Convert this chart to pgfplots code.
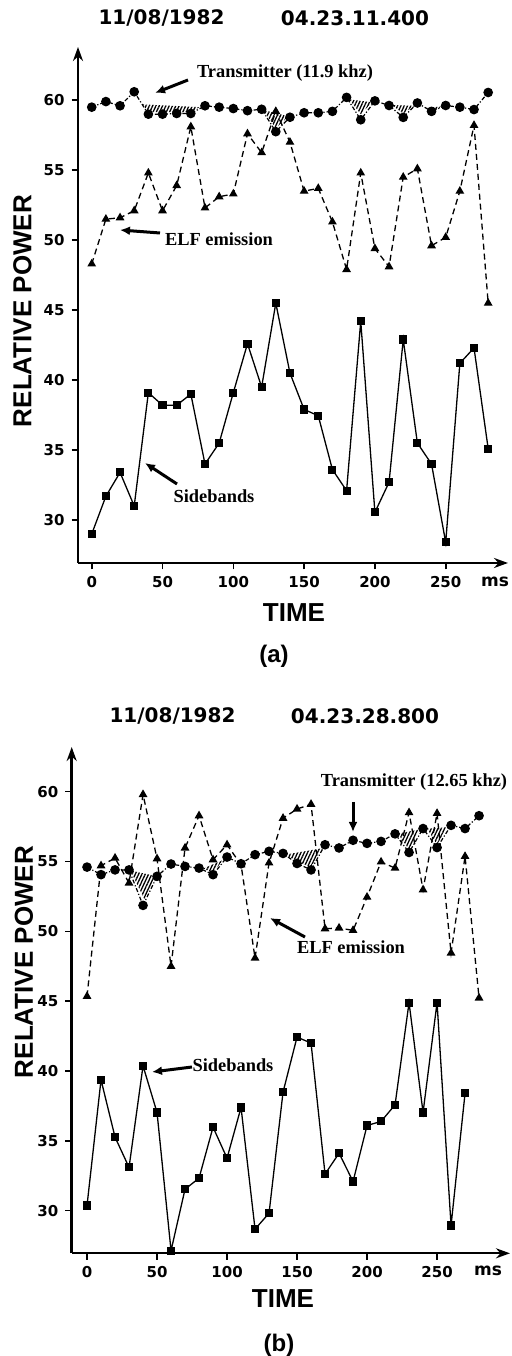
\documentclass[border=0pt]{standalone}
\usepackage{fontspec}
\setmainfont{Liberation Sans}
\newfontfamily\tickfont{DejaVu Sans}
\newfontfamily\annofont{Liberation Serif}
\usepackage{pgfplots}
\pgfplotsset{compat=1.18}
\usetikzlibrary{arrows.meta,patterns.meta}

\pgfplotsset{
  panel/.style={
    scale only axis, anchor=south west, clip=false,
    axis lines=left,
    axis line style={line width=1.2pt, -{Stealth[length=7pt,width=5pt]}},
    tick align=outside, major tick length=3.2pt,
    tick style={line width=0.8pt, black},
    xtick={0,50,...,250}, ytick={30,35,...,60},
    tick label style={font=\tickfont\bfseries\fontsize{7.5}{8}\selectfont},
    /pgf/number format/assume math mode=true,
  },
  trans/.style={black, line width=0.6pt, dash pattern=on 2pt off 1pt on 0.6pt off 1pt,
    mark=*, mark size=2.1pt, mark options={solid}},
  elf/.style={black, line width=0.65pt, dash pattern=on 3pt off 2pt,
    mark=triangle*, mark size=1.9pt, mark options={solid}},
  side/.style={black, line width=0.65pt, mark=square*, mark size=1.7pt},
  hatch/.style={draw=none, pattern={Lines[angle=65,distance=1.5pt,line width=0.65pt]}},
}
\tikzset{
  big/.style={font=\bfseries\fontsize{13}{14}\selectfont},
  anno/.style={font=\annofont\bfseries\fontsize{9.2}{10}\selectfont},
  ttl/.style={font=\tickfont\bfseries\fontsize{10}{11}\selectfont},
  pointer/.style={line width=1.5pt, -{Latex[length=5pt,width=4.5pt]}},
}

\begin{document}
\begin{tikzpicture}
\useasboundingbox (0pt,0pt) rectangle (256pt,678pt);

% ---------- panel (a)
\begin{axis}[panel, at={(39pt,396.5pt)}, width=215pt, height=258pt,
  xmin=-9.7, xmax=294, ymin=26.93, ymax=63.8]
\addplot[hatch] coordinates {(36,59.7)(76,59.5)(70,59.15)(40,59.15)} --cycle;
\addplot[hatch] coordinates {(121,59.3)(139,58.85)(130,58.0)} --cycle;
\addplot[hatch] coordinates {(182,60.05)(198,59.85)(190,59.0)} --cycle;
\addplot[hatch] coordinates {(212,59.65)(228,59.6)(220,59.05)} --cycle;
\addplot[hatch] coordinates {(236,59.45)(247,59.55)(241,59.1)} --cycle;
% transmitter
\addplot[trans] coordinates {
  (0,59.5)(10,59.9)(20,59.6)(30,60.6)(40,59.0)(50,59.0)(60,59.05)(70,59.05)
  (80,59.6)(90,59.5)(100,59.4)(110,59.25)(120,59.35)(130,57.75)(140,58.78)
  (150,59.1)(160,59.1)(170,59.2)(180,60.2)(190,58.6)(200,59.95)(210,59.62)
  (220,58.77)(230,59.8)(240,59.2)(250,59.62)(260,59.5)(270,59.33)(280,60.55)};
% ELF emission
\addplot[elf] coordinates {
  (0,48.3)(10,51.5)(20,51.6)(30,52.1)(40,54.8)(50,52.1)(60,53.9)(70,58.1)
  (80,52.3)(90,53.1)(100,53.3)(110,57.6)(120,56.25)(130,59.2)(140,57.0)
  (150,53.5)(160,53.7)(170,51.3)(180,47.9)(190,54.8)(200,49.4)(210,48.1)
  (220,54.5)(230,55.1)(240,49.6)(250,50.2)(260,53.5)(270,58.2)(280,45.5)};
% sidebands
\addplot[side] coordinates {
  (0,29.0)(10,31.7)(20,33.4)(30,31.0)(40,39.1)(50,38.2)(60,38.2)(70,39.0)
  (80,34.0)(90,35.5)(100,39.1)(110,42.6)(120,39.5)(130,45.5)(140,40.5)
  (150,37.9)(160,37.45)(170,33.6)(180,32.1)(190,44.2)(200,30.55)(210,32.7)
  (220,42.9)(230,35.5)(240,34.0)(250,28.4)(260,41.2)(270,42.3)(280,35.1)};
\end{axis}

% ---------- panel (b)
\begin{axis}[panel, at={(35.85pt,51.35pt)}, width=219.15pt, height=253.15pt,
  xmin=-10.95, xmax=302.1, ymin=26.95, ymax=63.2]
\addplot[hatch] coordinates {(31,54.35)(50,53.95)(41,52.3)} --cycle;
\addplot[hatch] coordinates {(83,54.5)(97,55.1)(90,54.2)} --cycle;
\addplot[hatch] coordinates {(142,55.5)(168,55.95)(160,54.6)(150,55.0)} --cycle;
\addplot[hatch] coordinates {(222,57.0)(238,57.3)(230,55.85)} --cycle;
\addplot[hatch] coordinates {(243,57.35)(257,57.45)(250,56.2)} --cycle;
% transmitter
\addplot[trans] coordinates {
  (0,54.6)(10,54.06)(20,54.4)(30,54.4)(40,51.86)(50,53.94)(60,54.82)(70,54.65)
  (80,54.53)(90,54.06)(100,55.32)(110,54.84)(120,55.49)(130,55.73)(140,55.58)
  (150,54.86)(160,54.4)(170,56.2)(180,55.97)(190,56.52)(200,56.3)(210,56.44)
  (220,56.98)(230,55.65)(240,57.36)(250,56.0)(260,57.59)(270,57.36)(280,58.28)};
% ELF emission
\addplot[elf] coordinates {
  (0,45.35)(10,54.7)(20,55.25)(30,53.46)(40,59.8)(50,55.2)(60,47.5)(70,55.97)
  (80,58.28)(90,55.13)(100,56.2)(110,54.77)(120,48.09)(130,54.9)(140,58.1)
  (150,58.76)(160,59.1)(170,50.19)(180,50.24)(190,50.07)(200,52.45)(210,54.97)
  (220,54.53)(230,58.5)(240,52.98)(250,58.45)(260,48.45)(270,55.37)(280,45.23)};
% sidebands
\addplot[side] coordinates {
  (0,30.37)(10,39.37)(20,35.27)(30,33.1)(40,40.37)(50,37.03)(60,27.14)(70,31.54)
  (80,32.33)(90,35.98)(100,33.76)(110,37.39)(120,28.68)(130,29.82)(140,38.49)
  (150,42.43)(160,42.0)(170,32.62)(180,34.12)(190,32.09)(200,36.1)(210,36.39)
  (220,37.58)(230,44.9)(240,37.03)(250,44.9)(260,28.94)(270,38.41)};
\end{axis}

% ---------- titles, labels, annotations
\node[ttl] at (80.75pt,668.75pt) {11/08/1982};
\node[ttl] at (177.5pt,668.75pt) {04.23.11.400};
\node[ttl] at (86.25pt,319.75pt) {11/08/1982};
\node[ttl] at (182.5pt,319.75pt) {04.23.28.800};

\node[big, rotate=90] at (11.25pt,522.5pt) {RELATIVE POWER};
\node[big, rotate=90] at (12pt,197pt) {RELATIVE POWER};
\node[big] at (147pt,371.5pt) {TIME};
\node[big] at (141.5pt,28.5pt) {TIME};
\node[big, font=\bfseries\fontsize{12}{13}\selectfont] at (137pt,350pt) {(a)};
\node[big, font=\bfseries\fontsize{12}{13}\selectfont] at (139.5pt,5.5pt) {(b)};
\node[font=\tickfont\bfseries\fontsize{8.5}{9}\selectfont] at (247.5pt,387pt) {ms};
\node[font=\tickfont\bfseries\fontsize{8.5}{9}\selectfont] at (244pt,42.5pt) {ms};

\node[anno] at (142.5pt,641.5pt) {Transmitter (11.9 khz)};
\draw[pointer] (94pt,638pt) -- (77.5pt,631.5pt);
\node[anno] at (109.5pt,558.5pt) {ELF emission};
\draw[pointer] (80pt,561.5pt) -- (60pt,563pt);
\node[anno] at (107pt,430pt) {Sidebands};
\draw[pointer] (88.5pt,436pt) -- (72.5pt,446.5pt);

\node[anno] at (207pt,287pt) {Transmitter (12.65 khz)};
\draw[pointer] (176.5pt,277pt) -- (176.5pt,262pt);
\node[anno] at (175.5pt,204.5pt) {ELF emission};
\draw[pointer] (152.5pt,209.5pt) -- (135pt,219pt);
\node[anno] at (116.5pt,145.5pt) {Sidebands};
\draw[pointer] (96pt,144.5pt) -- (76pt,142pt);
\end{tikzpicture}
\end{document}
